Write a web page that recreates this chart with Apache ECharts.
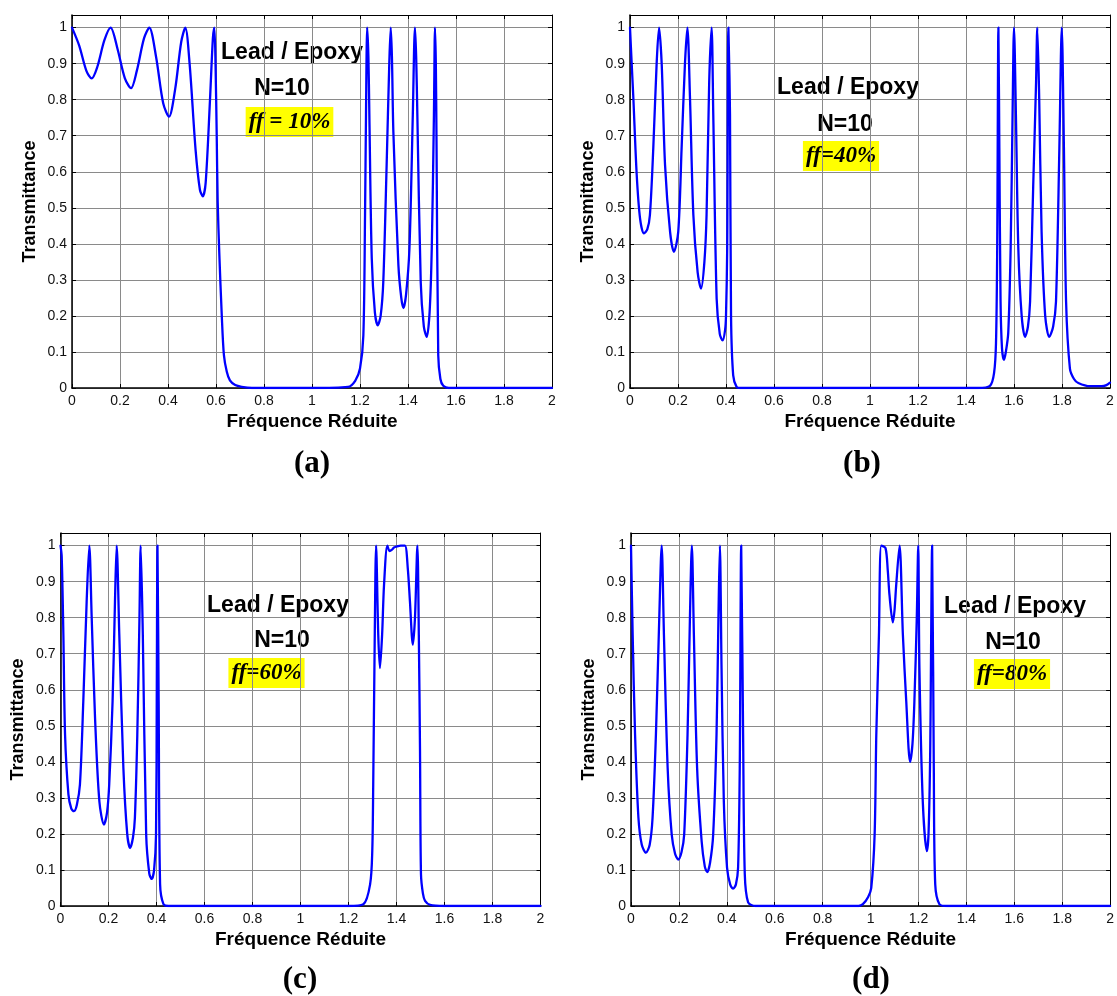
<!DOCTYPE html>
<html>
<head>
<meta charset="UTF-8">
<title>Transmittance Lead / Epoxy</title>
<script src="https://cdn.jsdelivr.net/npm/echarts/dist/echarts.min.js"></script>
<style>
  body { margin: 0; background: #fff; }
  #main { width: 1117px; height: 996px; }
</style>
</head>
<body>
<div id="main"></div>
<script type="text/javascript">
// (a) ff = 10%
var xA = [0, 0.03, 0.06, 0.082, 0.105, 0.135, 0.161, 0.19, 0.22, 0.246,
  0.27, 0.3, 0.322, 0.35, 0.38, 0.404, 0.43, 0.455, 0.472, 0.49,
  0.515, 0.533, 0.545, 0.557, 0.575, 0.587, 0.593, 0.598, 0.603, 0.607,
  0.614, 0.624, 0.633, 0.645, 0.658, 0.68, 0.707, 0.75, 1.0, 1.15,
  1.18, 1.2, 1.214, 1.221, 1.225, 1.23, 1.235, 1.239, 1.249, 1.262,
  1.274, 1.286, 1.297, 1.311, 1.322, 1.328, 1.333, 1.339, 1.36, 1.372,
  1.381, 1.392, 1.406, 1.42, 1.429, 1.434, 1.439, 1.453, 1.466, 1.478,
  1.49, 1.499, 1.508, 1.5125, 1.516, 1.519, 1.526, 1.535, 1.547, 1.57,
  2];
var yA = [1, 0.95, 0.88, 0.859, 0.89, 0.965, 1, 0.94, 0.86, 0.832,
  0.88, 0.97, 1, 0.92, 0.79, 0.753, 0.83, 0.96, 1, 0.9,
  0.66, 0.55, 0.532, 0.57, 0.8, 0.97, 1, 0.9, 0.7, 0.517,
  0.369, 0.202, 0.091, 0.045, 0.021, 0.008, 0.003, 0, 0, 0.003,
  0.02, 0.054, 0.146, 0.48, 0.757, 1, 0.92, 0.757, 0.36, 0.21,
  0.174, 0.2, 0.294, 0.619, 0.9, 1, 0.92, 0.711, 0.341, 0.25,
  0.222, 0.26, 0.387, 0.757, 1, 0.92, 0.757, 0.294, 0.17, 0.142,
  0.21, 0.387, 0.757, 1, 0.9, 0.665, 0.091, 0.025, 0.006, 0,
  0];

// (b) ff = 40%
var xB = [0, 0.007, 0.014, 0.028, 0.042, 0.058, 0.072, 0.083, 0.097, 0.111,
  0.121, 0.132, 0.146, 0.167, 0.183, 0.201, 0.215, 0.229, 0.239, 0.25,
  0.264, 0.282, 0.296, 0.31, 0.319, 0.33, 0.34, 0.347, 0.361, 0.374,
  0.386, 0.396, 0.4, 0.405, 0.41, 0.4167, 0.421, 0.43, 0.444, 0.46,
  1.45, 1.5, 1.517, 1.525, 1.53, 1.535, 1.539, 1.544, 1.55, 1.558,
  1.566, 1.576, 1.586, 1.594, 1.6, 1.608, 1.618, 1.632, 1.646, 1.658,
  1.667, 1.68, 1.692, 1.697, 1.705, 1.715, 1.73, 1.747, 1.763, 1.775,
  1.789, 1.799, 1.808, 1.817, 1.833, 1.85, 1.868, 1.917, 1.965, 1.985,
  2];
var yB = [1, 0.9, 0.804, 0.591, 0.47, 0.429, 0.44, 0.48, 0.665, 0.9,
  1, 0.9, 0.619, 0.433, 0.378, 0.433, 0.665, 0.9, 1, 0.804,
  0.48, 0.32, 0.276, 0.35, 0.48, 0.85, 1, 0.757, 0.248, 0.15,
  0.132, 0.16, 0.2, 0.387, 1, 0.757, 0.2, 0.035, 0.003, 0,
  0, 0.006, 0.042, 0.125, 0.387, 1, 0.665, 0.24, 0.11, 0.078,
  0.1, 0.153, 0.387, 0.757, 1, 0.757, 0.387, 0.2, 0.142, 0.17,
  0.24, 0.56, 0.85, 1, 0.804, 0.433, 0.2, 0.142, 0.17, 0.24,
  0.665, 1, 0.665, 0.24, 0.054, 0.025, 0.014, 0.005, 0.005, 0.008,
  0.015];

// (c) ff = 60%
var xC = [0, 0.005, 0.012, 0.019, 0.033, 0.045, 0.056, 0.068, 0.081, 0.095,
  0.109, 0.12, 0.13, 0.144, 0.162, 0.181, 0.194, 0.203, 0.217, 0.227,
  0.234, 0.245, 0.262, 0.278, 0.29, 0.302, 0.31, 0.32, 0.329, 0.334,
  0.343, 0.357, 0.37, 0.38, 0.39, 0.398, 0.401, 0.404, 0.409, 0.415,
  0.429, 0.45, 1.2, 1.262, 1.29, 1.299, 1.303, 1.309, 1.315, 1.324,
  1.331, 1.34, 1.348, 1.362, 1.371, 1.38, 1.39, 1.398, 1.418, 1.435,
  1.447, 1.456, 1.468, 1.477, 1.487, 1.493, 1.498, 1.502, 1.51, 1.519,
  1.54, 1.6, 2];
var yC = [1, 0.97, 0.752, 0.475, 0.31, 0.27, 0.263, 0.28, 0.337, 0.568,
  0.845, 1, 0.8, 0.521, 0.29, 0.226, 0.26, 0.337, 0.568, 0.845,
  1, 0.752, 0.383, 0.2, 0.161, 0.19, 0.245, 0.475, 0.8, 1,
  0.752, 0.198, 0.09, 0.075, 0.1, 0.198, 0.568, 1, 0.568, 0.06,
  0.005, 0, 0, 0.005, 0.06, 0.152, 0.337, 0.725, 1, 0.752,
  0.66, 0.752, 0.89, 1, 0.985, 0.988, 0.995, 0.997, 1, 1,
  0.937, 0.845, 0.725, 0.8, 1, 0.752, 0.429, 0.088, 0.035, 0.014,
  0.003, 0, 0];

// (d) ff = 80%
var xD = [0, 0.007, 0.017, 0.031, 0.045, 0.0625, 0.078, 0.09, 0.104, 0.118,
  0.128, 0.1375, 0.153, 0.17, 0.184, 0.197, 0.211, 0.222, 0.236, 0.246,
  0.254, 0.2625, 0.276, 0.295, 0.308, 0.318, 0.33, 0.343, 0.357, 0.365,
  0.371, 0.378, 0.3875, 0.401, 0.414, 0.426, 0.438, 0.447, 0.454, 0.46,
  0.468, 0.475, 0.489, 0.52, 0.95, 0.968, 0.99, 1.003, 1.017, 1.024,
  1.035, 1.045, 1.0625, 1.072, 1.079, 1.093, 1.1, 1.107, 1.121, 1.135,
  1.149, 1.165, 1.175, 1.183, 1.193, 1.199, 1.204, 1.218, 1.235, 1.242,
  1.249, 1.257, 1.264, 1.27, 1.2875, 1.32, 2];
var yD = [1, 0.752, 0.475, 0.245, 0.17, 0.148, 0.17, 0.245, 0.475, 0.8,
  1, 0.752, 0.383, 0.198, 0.145, 0.129, 0.15, 0.198, 0.475, 0.8,
  1, 0.752, 0.383, 0.179, 0.11, 0.094, 0.12, 0.198, 0.475, 0.8,
  1, 0.66, 0.29, 0.106, 0.06, 0.048, 0.06, 0.106, 0.383, 1,
  0.475, 0.088, 0.01, 0, 0, 0.005, 0.025, 0.05, 0.198, 0.475,
  0.752, 1, 0.993, 0.93, 0.863, 0.787, 0.82, 0.89, 1, 0.752,
  0.568, 0.4, 0.45, 0.568, 0.8, 1, 0.66, 0.29, 0.152, 0.2,
  0.429, 1, 0.383, 0.06, 0.005, 0, 0];

var panelLetters = ['(a)', '(b)', '(c)', '(d)'];
var ffLabels = ['ff = 10%', 'ff=40%', 'ff=60%', 'ff=80%'];
var xName = 'Fréquence Réduite';
var yName = 'Transmittance';

var sans = '"Liberation Sans", Arial, sans-serif';
var serif = '"Liberation Serif", "Times New Roman", serif';

// plot boxes (left, top) in pixels, all 480 x 373
var boxes = [[72, 15], [630, 15], [60.5, 533], [631, 533]];
// annotation centres: [leadX, leadY, nX, nY, ffX, ffY]
var notes = [
  [292, 53, 282, 89, 289.5, 122],
  [848, 88, 845, 125, 841, 156],
  [278, 606, 282, 641, 266.5, 673],
  [1015, 607, 1013, 643, 1012, 674]
];
var letterPos = [[312, 464], [862, 464], [300, 980], [871, 980]];

var series_xy = [[xA, yA], [xB, yB], [xC, yC], [xD, yD]];

var grids = [], xAxes = [], yAxes = [], series = [], graphics = [];
boxes.forEach(function (b, i) {
  grids.push({ left: b[0], top: b[1], width: 480, height: 373, show: false });
  var tick = { show: true, inside: true, length: 4, lineStyle: { color: '#000' } };
  // bottom x axis
  xAxes.push({
    gridIndex: i, type: 'value', min: 0, max: 2, interval: 0.2, position: 'bottom',
    name: xName, nameLocation: 'middle', nameGap: 24,
    nameTextStyle: { fontFamily: sans, fontWeight: 'bold', fontSize: 19, color: '#000' },
    axisLine: { show: true, onZero: false, lineStyle: { color: '#000', width: 1.5 } },
    axisTick: tick,
    axisLabel: { fontFamily: sans, fontSize: 14, color: '#111', margin: 6 },
    splitLine: { show: true, lineStyle: { color: '#8a8a8a', width: 1 } }
  });
  // top x axis (ticks only)
  xAxes.push({
    gridIndex: i, type: 'value', min: 0, max: 2, interval: 0.2, position: 'top',
    axisLine: { show: true, onZero: false, lineStyle: { color: '#000', width: 1 } },
    axisTick: tick, axisLabel: { show: false }, splitLine: { show: false }
  });
  // left y axis
  yAxes.push({
    gridIndex: i, type: 'value', min: 0, max: 1.035, interval: 0.1, position: 'left',
    name: yName, nameLocation: 'middle', nameGap: 33,
    nameTextStyle: { fontFamily: sans, fontWeight: 'bold', fontSize: 18, color: '#000' },
    axisLine: { show: true, onZero: false, lineStyle: { color: '#000', width: 1.5 } },
    axisTick: tick,
    axisLabel: {
      fontFamily: sans, fontSize: 14, color: '#111', margin: 5,
      formatter: function (v) { return v > 1.001 ? '' : String(Math.round(v * 10) / 10); }
    },
    splitLine: { show: true, lineStyle: { color: '#8a8a8a', width: 1 } }
  });
  // right y axis (ticks only)
  yAxes.push({
    gridIndex: i, type: 'value', min: 0, max: 1.035, interval: 0.1, position: 'right',
    axisLine: { show: true, onZero: false, lineStyle: { color: '#000', width: 1 } },
    axisTick: tick, axisLabel: { show: false }, splitLine: { show: false }
  });

  var xs = series_xy[i][0], ys = series_xy[i][1];
  series.push({
    type: 'line', xAxisIndex: 2 * i, yAxisIndex: 2 * i,
    data: xs.map(function (x, k) { return [x, ys[k]]; }),
    showSymbol: false, smooth: 0.3, clip: true,
    lineStyle: { color: '#0000ff', width: 2.3, join: 'round', cap: 'round' }
  });

  var n = notes[i];
  graphics.push({
    type: 'text', x: n[0], y: n[1],
    style: { text: 'Lead / Epoxy', font: 'bold 23px ' + sans, fill: '#000',
             textAlign: 'center', textVerticalAlign: 'middle' }
  });
  graphics.push({
    type: 'text', x: n[2], y: n[3],
    style: { text: 'N=10', font: 'bold 23px ' + sans, fill: '#000',
             textAlign: 'center', textVerticalAlign: 'middle' }
  });
  graphics.push({
    type: 'text', x: n[4], y: n[5],
    style: { text: ffLabels[i], font: 'italic bold 23px ' + serif, fill: '#000',
             textAlign: 'center', textVerticalAlign: 'middle',
             backgroundColor: '#ffff00', padding: [4, 3, 3, 3] }
  });
  graphics.push({
    type: 'text', x: letterPos[i][0], y: letterPos[i][1],
    style: { text: panelLetters[i], font: 'bold 31px ' + serif, fill: '#000',
             textAlign: 'center', textVerticalAlign: 'middle' }
  });
});

var myChart = echarts.init(document.getElementById('main'));
myChart.setOption({
  animation: false,
  backgroundColor: '#fff',
  grid: grids,
  xAxis: xAxes,
  yAxis: yAxes,
  series: series,
  graphic: graphics
});
</script>
</body>
</html>
